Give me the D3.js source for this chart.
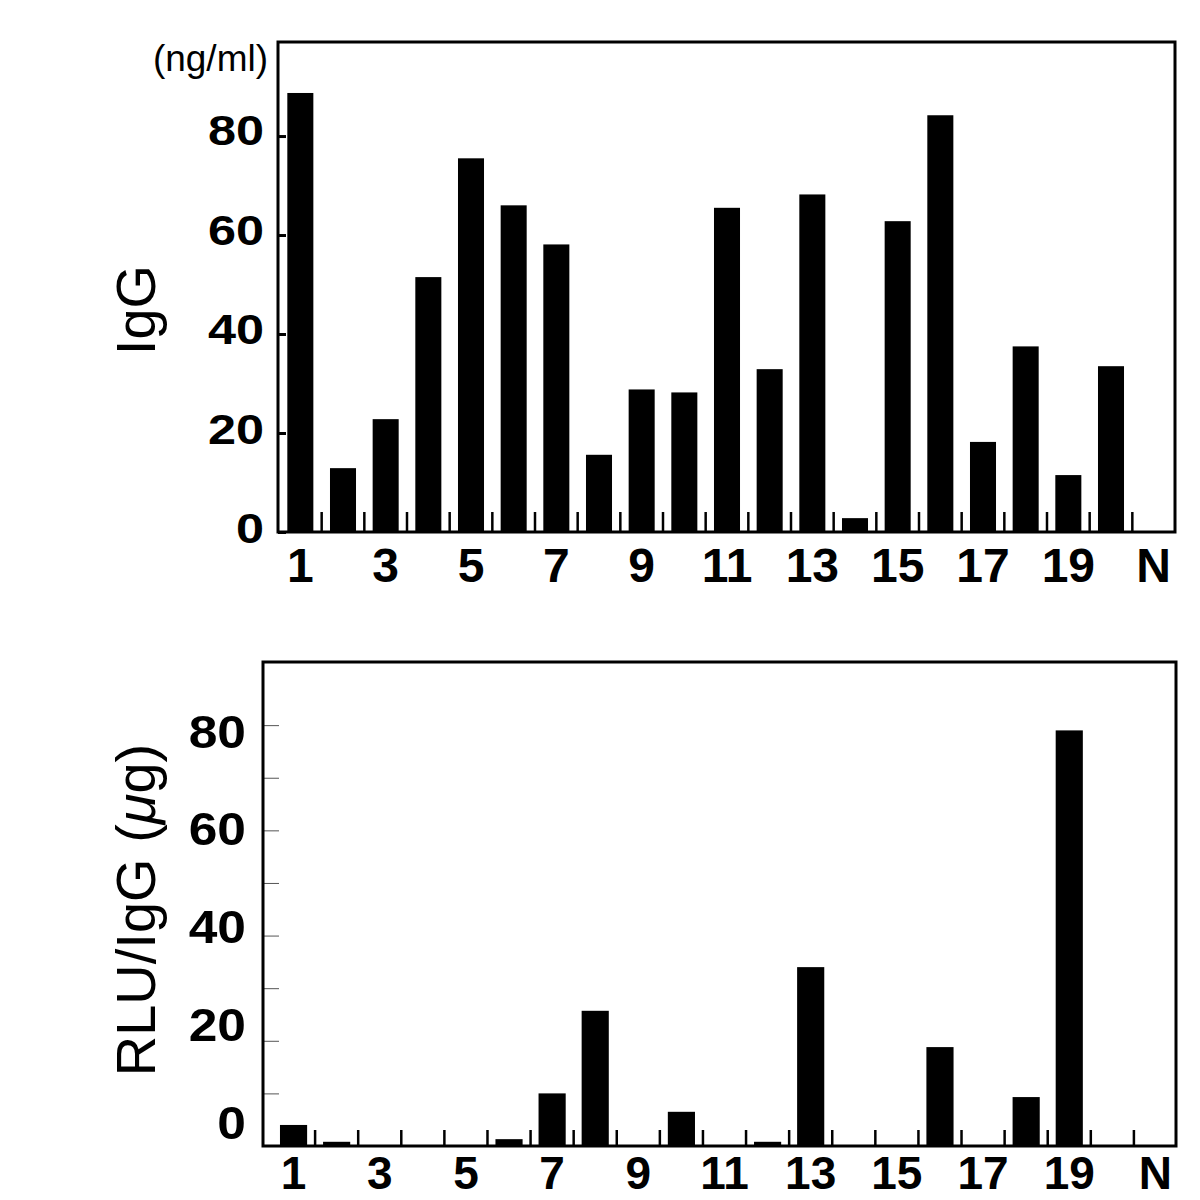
<!DOCTYPE html>
<html>
<head>
<meta charset="utf-8">
<script src="https://cdn.jsdelivr.net/npm/d3@7"></script>
<style>
  body { margin: 0; background: #fff; }
  text { font-family: "Liberation Sans", Arial, Helvetica, sans-serif; fill: #000; }
</style>
</head>
<body>
<script>
// categories (20 clones + N)
var categories = ['1','2','3','4','5','6','7','8','9','10','11','12','13','14','15','16','17','18','19','20','N']
var x_labels = ['1','3','5','7','9','11','13','15','17','19','N']
// IgG (ng/ml) per clone
var igg_values = [88.7, 12.9, 22.8, 51.5, 75.5, 66, 58.1, 15.6, 28.8, 28.2, 65.5, 32.9, 68.2, 2.8, 62.8, 84.2, 18.2, 37.5, 11.5, 33.5, 0]
// RLU / IgG (ug) per clone
var rlu_values = [4, 0.8, 0, 0, 0, 1.3, 10, 25.7, 0, 6.5, 0, 0.8, 34, 0, 0, 18.8, 0, 9.3, 79, 0, 0]
var y_tick_labels = [0, 20, 40, 60, 80]
var top_ticks = [0, 20, 40, 60, 80]
var bottom_ticks = [0, 10, 20, 30, 40, 50, 60, 70, 80]

var svg = d3.select('body').append('svg').attr('width', 1200).attr('height', 1200).attr('id', 'svg0')

function draw_panel(opt) {
    var g = svg.append('g')
    var x = d3.scaleBand().domain(categories).range(opt.band_range)
        .paddingInner(opt.pad_inner).paddingOuter(opt.pad_inner / 2)
    var y = d3.scaleLinear().domain(opt.y_domain).range([opt.bottom, opt.top])
    var gap = x.step() - x.bandwidth()

    // bars
    g.selectAll('.bar').data(opt.values).enter().append('rect')
        .attr('class', 'bar')
        .attr('x', (d, i) => x(categories[i]))
        .attr('width', x.bandwidth())
        .attr('y', d => y(d))
        .attr('height', d => y(0) - y(d))
        .attr('fill', '#000')
        .style('display', d => d > 0 ? null : 'none')

    // y ticks (inward)
    var yaxis = g.append('g').attr('transform', 'translate(' + opt.left + ',0)')
        .call(d3.axisLeft(y).tickValues(opt.y_ticks).tickFormat('').tickSizeInner(-opt.ytick_len).tickSizeOuter(0))
    yaxis.select('.domain').remove()
    yaxis.selectAll('line').attr('stroke', opt.ytick_color).attr('stroke-width', opt.ytick_width)

    // x ticks between categories (inward, from baseline up)
    var xt = g.append('g')
    xt.selectAll('line').data(categories.slice(1)).enter().append('line')
        .attr('x1', d => x(d) - gap / 2).attr('x2', d => x(d) - gap / 2)
        .attr('y1', opt.bottom).attr('y2', opt.bottom - opt.xtick_len)
        .attr('stroke', '#000').attr('stroke-width', opt.xtick_width)

    // frame
    g.append('rect')
        .attr('x', opt.left).attr('y', opt.top)
        .attr('width', opt.right - opt.left).attr('height', opt.bottom - opt.top)
        .attr('fill', 'none').attr('stroke', '#000').attr('stroke-width', 3)

    // y tick labels (placed by their own scale, as in the original)
    var ylab = d3.scaleLinear().domain([0, 80]).range(opt.label_range)
    g.selectAll('.ylab').data(y_tick_labels).enter().append('text')
        .attr('class', 'ylab')
        .attr('text-anchor', 'end')
        .attr('font-weight', 'bold')
        .attr('font-size', opt.ylab_size)
        .attr('transform', d => 'translate(' + opt.ylab_x + ',' + (ylab(d) + opt.ylab_size * 0.36) + ') scale(' + opt.ylab_stretch + ',1)')
        .text(d => d)

    // x labels
    g.selectAll('.xlab').data(x_labels).enter().append('text')
        .attr('class', 'xlab')
        .attr('text-anchor', 'middle')
        .attr('font-weight', 'bold')
        .attr('font-size', opt.xlab_size)
        .attr('x', d => x(d) + x.bandwidth() / 2)
        .attr('y', opt.xlab_y)
        .text(d => d)

    // axis title
    g.append('text')
        .attr('text-anchor', 'middle')
        .attr('font-size', 56)
        .attr('transform', 'translate(' + opt.title_x + ',' + opt.title_y + ') rotate(-90)')
        .html(opt.title)
    return g
}

var top_panel = draw_panel({
    values: igg_values, band_range: [279, 1175], pad_inner: 0.39,
    left: 278, right: 1175, top: 42, bottom: 532, y_domain: [0, 99],
    y_ticks: top_ticks, ytick_len: 8, ytick_width: 3, ytick_color: '#000',
    xtick_len: 20, xtick_width: 2.5,
    label_range: [528, 130], ylab_x: 264, ylab_size: 42, ylab_stretch: 1.2,
    xlab_y: 582, xlab_size: 48, title_x: 155, title_y: 310, title: 'IgG'
})

top_panel.append('text')
    .attr('x', 268).attr('y', 71)
    .attr('text-anchor', 'end')
    .attr('font-size', 37)
    .text('(ng/ml)')

var bottom_panel = draw_panel({
    values: rlu_values, band_range: [272, 1177], pad_inner: 0.37,
    left: 263, right: 1176, top: 662, bottom: 1146, y_domain: [0, 92],
    y_ticks: bottom_ticks, ytick_len: 16, ytick_width: 1, ytick_color: '#555',
    xtick_len: 16, xtick_width: 2.5,
    label_range: [1122, 731], ylab_x: 246, ylab_size: 46, ylab_stretch: 1.12,
    xlab_y: 1189, xlab_size: 46, title_x: 155, title_y: 910,
    title: 'RLU/IgG (<tspan font-style="italic">\u03bc</tspan>g)'
})
</script>
</body>
</html>
